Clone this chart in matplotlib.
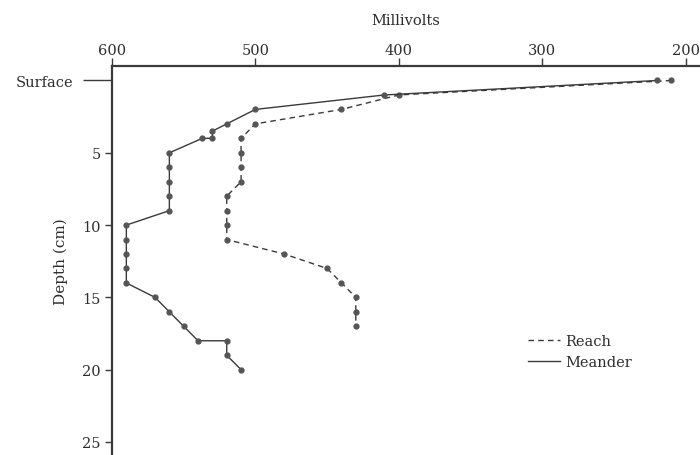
import numpy as np
import matplotlib
matplotlib.use("Agg")
import matplotlib.pyplot as plt

plt.rcParams['font.family'] = ['DejaVu Serif']

# Meander profile: depth (cm) vs millivolts
meander_depth = [0, 1, 2, 3, 3.5, 4, 4, 5, 6, 7, 8, 9, 10, 11, 12, 13, 14, 15, 16, 17, 18, 18, 19, 20]
meander_mv = [220, 410, 500, 520, 530, 530, 537, 560, 560, 560, 560, 560, 590, 590, 590, 590, 590,
              570, 560, 550, 540, 520, 520, 510]

# Reach profile
reach_depth = [0, 1, 2, 3, 4, 5, 6, 7, 8, 9, 10, 11, 12, 13, 14, 15, 16, 17]
reach_mv = [210, 400, 440, 500, 510, 510, 510, 510, 520, 520, 520, 520, 480, 450, 440, 430, 430, 430]

x_ticks = [600, 500, 400, 300, 200]
y_ticks = [0, 5, 10, 15, 20, 25]
y_labels = ['Surface', '5', '10', '15', '20', '25']

ink = '#3a3a3a'
txt = '#2e2e2e'

fig = plt.figure(figsize=(7, 4.56), dpi=100)
ax = fig.add_axes([0.16, 0.0, 0.84, 0.853])

ax.plot(reach_mv, reach_depth, color=ink, lw=1.0, ls=(0, (4, 3)),
        marker='o', ms=3.5, mfc='#555555', mec='#555555', label='Reach')
ax.plot(meander_mv, meander_depth, color=ink, lw=1.0, ls='-',
        marker='o', ms=3.5, mfc='#555555', mec='#555555', label='Meander')

ax.set_xlim(600, 190)
ax.set_ylim(25.9, -1.0)

ax.xaxis.tick_top()
ax.xaxis.set_label_position('top')
ax.set_xticks(x_ticks)
ax.set_xlabel('Millivolts', fontsize=10.5, labelpad=14, color=txt)
ax.set_yticks(y_ticks)
ax.set_yticklabels(y_labels)
ax.set_ylabel('Depth (cm)', fontsize=11, color=txt)
ax.yaxis.set_label_coords(-0.075, 0.5)

ax.tick_params(axis='both', direction='out', width=1, colors=ink,
               labelsize=10.5, labelcolor=txt)
ax.tick_params(axis='x', length=6, pad=0.5)
ax.tick_params(axis='y', length=5, pad=3)

# longer tick for the Surface mark, label pushed out to the left
t0 = ax.yaxis.get_major_ticks()[0]
t0.set_pad(23)
t0.tick1line.set_markersize(21)

for side in ['right', 'bottom']:
    ax.spines[side].set_visible(False)
for side in ['top', 'left']:
    ax.spines[side].set_linewidth(1.6)
    ax.spines[side].set_color(ink)

leg = ax.legend(loc='upper left', bbox_to_anchor=(0.697, 0.325), frameon=False,
                fontsize=10.5, handlelength=2.2, handletextpad=0.4, labelspacing=0.45,
                borderaxespad=0, labelcolor=txt)
for h in leg.legend_handles:
    h.set_marker('')

fig.savefig('out.png', dpi=100)
